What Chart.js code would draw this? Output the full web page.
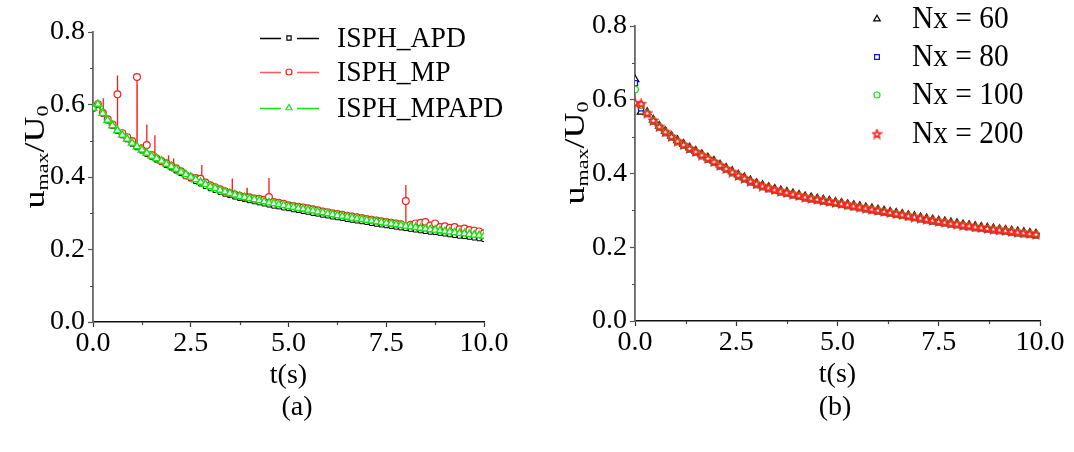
<!DOCTYPE html>
<html>
<head>
<meta charset="utf-8">
<script src="https://cdn.jsdelivr.net/npm/chart.js@4.4.0/dist/chart.umd.min.js"></script>
<style>
  html, body { margin: 0; padding: 0; background: #fff; }
  #wrap { position: relative; width: 1074px; height: 452px; overflow: hidden; }
  .panel { position: absolute; top: 0; width: 537px; height: 452px; }
  .cap { position: absolute; width: 100px; text-align: center; font: 28px "Liberation Serif", serif; line-height: 32px; color: #000; }
</style>
</head>
<body>
<div id="wrap">
  <div class="panel" style="left:0"><canvas id="chartA"></canvas></div>
  <div class="panel" style="left:537px"><canvas id="chartB"></canvas></div>
  <div class="cap" style="left:247px;top:390px">(a)</div>
  <div class="cap" style="left:785px;top:390px">(b)</div>
</div>
<script>
// ===== data: panel (a) =====
const xTicks = [0, 2.5, 5, 7.5, 10];
const yTicks = [0, 0.2, 0.4, 0.6, 0.8];
const xMinor = [1.25, 3.75, 6.25, 8.75];
const yMinor = [0.1, 0.3, 0.5, 0.7];

const tA = [0, 0.125, 0.25, 0.375, 0.5, 0.625, 0.75, 0.875, 1, 1.125,
  1.25, 1.375, 1.5, 1.625, 1.75, 1.875, 2, 2.125, 2.25, 2.375,
  2.5, 2.625, 2.75, 2.875, 3, 3.125, 3.25, 3.375, 3.5, 3.625,
  3.75, 3.875, 4, 4.125, 4.25, 4.375, 4.5, 4.625, 4.75, 4.875,
  5, 5.125, 5.25, 5.375, 5.5, 5.625, 5.75, 5.875, 6, 6.125,
  6.25, 6.375, 6.5, 6.625, 6.75, 6.875, 7, 7.125, 7.25, 7.375,
  7.5, 7.625, 7.75, 7.875, 8, 8.125, 8.25, 8.375, 8.5, 8.625,
  8.75, 8.875, 9, 9.125, 9.25, 9.375, 9.5, 9.625, 9.75, 9.875, 10];

const apd = [0.589, 0.600, 0.574, 0.555, 0.540, 0.526, 0.514, 0.503, 0.491, 0.481,
  0.472, 0.463, 0.455, 0.447, 0.440, 0.432, 0.425, 0.417, 0.410, 0.402,
  0.395, 0.388, 0.381, 0.374, 0.368, 0.363, 0.358, 0.353, 0.349, 0.345,
  0.341, 0.338, 0.335, 0.332, 0.329, 0.326, 0.323, 0.320, 0.318, 0.315,
  0.313, 0.310, 0.308, 0.305, 0.303, 0.300, 0.298, 0.295, 0.293, 0.290,
  0.288, 0.286, 0.283, 0.281, 0.279, 0.277, 0.275, 0.272, 0.270, 0.268,
  0.266, 0.264, 0.262, 0.260, 0.258, 0.256, 0.254, 0.252, 0.250, 0.248,
  0.247, 0.245, 0.243, 0.241, 0.239, 0.237, 0.236, 0.234, 0.232, 0.230, 0.228];

const mp = [0.590, 0.601, 0.577, 0.559, 0.545, 0.628, 0.521, 0.510, 0.499, 0.676,
  0.479, 0.488, 0.461, 0.451, 0.444, 0.438, 0.431, 0.424, 0.416, 0.404,
  0.399, 0.397, 0.395, 0.385, 0.377, 0.372, 0.366, 0.361, 0.356, 0.352,
  0.348, 0.345, 0.344, 0.341, 0.340, 0.337, 0.345, 0.331, 0.329, 0.326,
  0.322, 0.320, 0.318, 0.316, 0.314, 0.311, 0.308, 0.305, 0.303, 0.300,
  0.298, 0.296, 0.293, 0.291, 0.289, 0.287, 0.284, 0.282, 0.280, 0.278,
  0.276, 0.274, 0.272, 0.270, 0.334, 0.268, 0.272, 0.274, 0.276, 0.266,
  0.272, 0.262, 0.264, 0.260, 0.262, 0.256, 0.258, 0.254, 0.252, 0.250, 0.245];

const mpapd = [0.590, 0.601, 0.576, 0.557, 0.542, 0.528, 0.516, 0.505, 0.494, 0.484,
  0.475, 0.466, 0.458, 0.451, 0.444, 0.436, 0.429, 0.422, 0.414, 0.407,
  0.400, 0.393, 0.386, 0.380, 0.374, 0.369, 0.364, 0.359, 0.355, 0.351,
  0.347, 0.344, 0.341, 0.338, 0.335, 0.332, 0.329, 0.327, 0.324, 0.322,
  0.319, 0.317, 0.314, 0.312, 0.309, 0.307, 0.304, 0.302, 0.299, 0.297,
  0.294, 0.292, 0.290, 0.287, 0.285, 0.283, 0.281, 0.279, 0.277, 0.275,
  0.273, 0.271, 0.269, 0.267, 0.265, 0.263, 0.261, 0.259, 0.257, 0.255,
  0.254, 0.252, 0.250, 0.249, 0.247, 0.245, 0.244, 0.242, 0.240, 0.239, 0.237];

// spikes in the ISPH_MP line
const spikeT    = [0.26, 0.625, 1.125, 1.375, 1.58, 1.93, 2.06, 2.78, 3.56, 3.94, 4.5, 8.0];
const spikeTop  = [0.617, 0.680, 0.655, 0.545, 0.515, 0.460, 0.451, 0.433, 0.396, 0.370, 0.397, 0.378];
const spikeBase = [0.576, 0.533, 0.490, 0.468, 0.455, 0.435, 0.428, 0.388, 0.352, 0.343, 0.330, 0.264];

// ===== data: panel (b) =====
const tB = [0, 0.15, 0.3, 0.45, 0.6, 0.75, 0.9, 1.05, 1.2, 1.35,
  1.5, 1.65, 1.8, 1.95, 2.1, 2.25, 2.4, 2.55, 2.7, 2.85,
  3, 3.15, 3.3, 3.45, 3.6, 3.75, 3.9, 4.05, 4.2, 4.35,
  4.5, 4.65, 4.8, 4.95, 5.1, 5.25, 5.4, 5.55, 5.7, 5.85,
  6, 6.15, 6.3, 6.45, 6.6, 6.75, 6.9, 7.05, 7.2, 7.35,
  7.5, 7.65, 7.8, 7.95, 8.1, 8.25, 8.4, 8.55, 8.7, 8.85,
  9, 9.15, 9.3, 9.45, 9.6, 9.75, 9.9];

const nx60 = [0.655, 0.567, 0.566, 0.546, 0.529, 0.515, 0.502, 0.490, 0.480, 0.470,
  0.461, 0.452, 0.443, 0.434, 0.424, 0.415, 0.406, 0.397, 0.389, 0.381,
  0.374, 0.368, 0.363, 0.358, 0.354, 0.350, 0.346, 0.342, 0.338, 0.335,
  0.332, 0.329, 0.326, 0.323, 0.320, 0.317, 0.314, 0.311, 0.308, 0.305,
  0.302, 0.299, 0.296, 0.293, 0.290, 0.287, 0.284, 0.281, 0.278, 0.275,
  0.272, 0.270, 0.267, 0.265, 0.262, 0.260, 0.257, 0.255, 0.253, 0.251,
  0.249, 0.247, 0.245, 0.243, 0.241, 0.239, 0.237];

const nx80 = [0.645, 0.577, 0.561, 0.541, 0.524, 0.510, 0.497, 0.485, 0.475, 0.465,
  0.456, 0.447, 0.438, 0.429, 0.419, 0.410, 0.401, 0.392, 0.384, 0.376,
  0.369, 0.363, 0.358, 0.353, 0.349, 0.345, 0.341, 0.337, 0.333, 0.330,
  0.327, 0.324, 0.321, 0.318, 0.315, 0.312, 0.309, 0.306, 0.303, 0.300,
  0.297, 0.294, 0.291, 0.288, 0.285, 0.282, 0.279, 0.276, 0.273, 0.270,
  0.267, 0.265, 0.262, 0.260, 0.257, 0.255, 0.252, 0.250, 0.248, 0.246,
  0.244, 0.242, 0.240, 0.238, 0.236, 0.234, 0.232];

const nx100 = [0.628, 0.585, 0.563, 0.543, 0.526, 0.512, 0.499, 0.487, 0.477, 0.467,
  0.458, 0.449, 0.440, 0.431, 0.421, 0.412, 0.403, 0.394, 0.386, 0.378,
  0.371, 0.365, 0.360, 0.355, 0.351, 0.347, 0.343, 0.339, 0.335, 0.332,
  0.329, 0.326, 0.323, 0.320, 0.317, 0.314, 0.311, 0.308, 0.305, 0.302,
  0.299, 0.296, 0.293, 0.290, 0.287, 0.284, 0.281, 0.278, 0.275, 0.272,
  0.269, 0.267, 0.264, 0.262, 0.259, 0.257, 0.254, 0.252, 0.250, 0.248,
  0.246, 0.244, 0.242, 0.240, 0.238, 0.236, 0.234];

const nx200 = [0.592, 0.589, 0.564, 0.544, 0.527, 0.513, 0.500, 0.488, 0.478, 0.468,
  0.459, 0.450, 0.441, 0.432, 0.422, 0.413, 0.404, 0.395, 0.387, 0.379,
  0.372, 0.366, 0.361, 0.356, 0.352, 0.348, 0.344, 0.340, 0.336, 0.333,
  0.330, 0.327, 0.324, 0.321, 0.318, 0.315, 0.312, 0.309, 0.306, 0.303,
  0.300, 0.297, 0.294, 0.291, 0.288, 0.285, 0.282, 0.279, 0.276, 0.273,
  0.270, 0.268, 0.265, 0.263, 0.260, 0.258, 0.255, 0.253, 0.251, 0.249,
  0.247, 0.245, 0.243, 0.241, 0.239, 0.237, 0.235];

// ===== helpers =====
const FONT = '"Liberation Serif", "Times New Roman", serif';
const GREEN = '#10e610';
const RED = '#ff1a1a';
const BLUE = '#1010ff';

const pts = (xs, ys) => xs.map((x, i) => ({ x: x, y: ys[i] }));

// red line = markers + narrow spikes, sorted by time
const mpLine = pts(tA, mp).concat(spikeT.flatMap((t, i) => [
  { x: t - 0.004, y: spikeBase[i] },
  { x: t + 0.001, y: spikeTop[i] },
  { x: t + 0.004, y: spikeBase[i] }
])).sort((a, b) => a.x - b.x);

function makeStar(color) {
  const c = document.createElement('canvas');
  c.width = 11; c.height = 11;
  const g = c.getContext('2d');
  g.beginPath();
  for (let i = 0; i < 10; i++) {
    const r = i % 2 ? 1.9 : 4.3;
    const a = -Math.PI / 2 + i * Math.PI / 5;
    const px = 5.5 + r * Math.cos(a), py = 5.8 + r * Math.sin(a);
    if (i) g.lineTo(px, py); else g.moveTo(px, py);
  }
  g.closePath();
  g.fillStyle = '#fff'; g.fill();
  g.strokeStyle = color; g.lineWidth = 1.6; g.stroke();
  return c;
}
const starImg = makeStar(RED);

function axes(yBorder, yWidth) {
  return {
    x: {
      type: 'linear', min: 0, max: 10,
      afterBuildTicks: s => { s.ticks = xTicks.map(v => ({ value: v })); },
      ticks: { callback: v => v.toFixed(1), font: { family: FONT, size: 28 }, color: '#000', padding: 0, maxRotation: 0, autoSkip: false },
      grid: { drawOnChartArea: false, tickLength: 5, tickColor: '#333', tickWidth: 1.2 },
      border: { color: '#111', width: 1.6 },
      title: { display: true, text: 't(s)', font: { family: FONT, size: 28 }, color: '#000', padding: { top: 0, bottom: 0 } },
      afterFit: s => { s.height = 70; }
    },
    y: {
      type: 'linear', min: 0, max: 0.8,
      afterBuildTicks: s => { s.ticks = yTicks.map(v => ({ value: v })); },
      ticks: { callback: v => v.toFixed(1), font: { family: FONT, size: 28 }, color: '#000', padding: 3 },
      grid: { drawOnChartArea: false, tickLength: 5, tickColor: '#555', tickWidth: 1.2 },
      border: { color: yBorder, width: 1.8 },
      afterFit: s => { s.width = yWidth; }
    }
  };
}

function drawMinorTicks(chart) {
  const { ctx, scales: { x, y } } = chart;
  ctx.save();
  ctx.strokeStyle = '#444';
  ctx.lineWidth = 1.2;
  ctx.beginPath();
  xMinor.forEach(v => {
    const px = Math.round(x.getPixelForValue(v)) + 0.5;
    ctx.moveTo(px, y.bottom); ctx.lineTo(px, y.bottom + 3);
  });
  yMinor.forEach(v => {
    const py = Math.round(y.getPixelForValue(v)) + 0.5;
    ctx.moveTo(x.left, py); ctx.lineTo(x.left - 3, py);
  });
  ctx.stroke();
  ctx.restore();
}

// text squeezed slightly in width, like the reference
function drawText(ctx, text, x, y, size, sx) {
  ctx.save();
  ctx.translate(x, y);
  ctx.scale(sx, 1);
  ctx.font = size + 'px ' + FONT;
  ctx.fillStyle = '#000';
  ctx.textBaseline = 'middle';
  ctx.fillText(text, 0, 0);
  ctx.restore();
}

// u_max / U_0, rotated
function drawYTitle(ctx, x, yc) {
  const big = '36px ' + FONT, small = '22px ' + FONT;
  const parts = [['u', big, 0], ['max', small, 5], ['/U', big, 0], ['0', small, 5]];
  let total = 0;
  parts.forEach(p => { ctx.font = p[1]; p.push(ctx.measureText(p[0]).width); total += p[3]; });
  ctx.save();
  ctx.translate(x, yc);
  ctx.rotate(-Math.PI / 2);
  ctx.scale(1, 0.8);
  ctx.fillStyle = '#000';
  ctx.textBaseline = 'alphabetic';
  let cx = -total / 2;
  parts.forEach(p => { ctx.font = p[1]; ctx.fillText(p[0], cx, p[2]); cx += p[3]; });
  ctx.restore();
}

function marker(ctx, style, color, radius, x, y) {
  ctx.save();
  ctx.strokeStyle = color;
  ctx.fillStyle = '#fff';
  ctx.lineWidth = 1.2;
  Chart.helpers.drawPoint(ctx, { pointStyle: style, radius: radius, rotation: 0, borderWidth: 1.2 }, x, y);
  ctx.restore();
}

// ===== panel (a) =====
const legendA = [
  { text: 'ISPH_APD', color: '#000', line: '#000', style: 'rect', r: 3 },
  { text: 'ISPH_MP', color: RED, line: '#ff5a5a', style: 'circle', r: 3 },
  { text: 'ISPH_MPAPD', color: GREEN, line: GREEN, style: 'triangle', r: 3.5 }
];
const legendARows = [38, 72, 108];

const decorA = {
  id: 'decorA',
  afterDraw(chart) {
    const ctx = chart.ctx;
    drawMinorTicks(chart);
    drawYTitle(ctx, 44, 157);
    legendA.forEach((it, i) => {
      const y = legendARows[i];
      ctx.save();
      ctx.strokeStyle = it.line;
      ctx.lineWidth = 1.3;
      ctx.beginPath();
      ctx.moveTo(260, y + 0.5); ctx.lineTo(281, y + 0.5);
      ctx.moveTo(297, y + 0.5); ctx.lineTo(319, y + 0.5);
      ctx.stroke();
      ctx.restore();
      marker(ctx, it.style, it.color, it.r, 289, y);
      drawText(ctx, it.text, 337, y + 1, 30, 0.92);
    });
  }
};

new Chart(document.getElementById('chartA'), {
  type: 'line',
  data: {
    datasets: [
      { label: 'ISPH_MPAPD', data: pts(tA, mpapd), borderColor: GREEN, borderWidth: 1.4,
        pointStyle: 'triangle', pointRadius: 4.3, pointBorderColor: GREEN, pointBackgroundColor: '#fff', pointBorderWidth: 1.4, order: 0 },
      { label: 'ISPH_MP', data: pts(tA, mp), showLine: false,
        pointStyle: 'circle', pointRadius: 3.4, pointBorderColor: RED, pointBackgroundColor: '#fff', pointBorderWidth: 1.2, order: 1 },
      { label: 'ISPH_MP line', data: mpLine, borderColor: RED, borderWidth: 1.3, pointRadius: 0, order: 2 },
      { label: 'ISPH_APD', data: pts(tA, apd), borderColor: '#000', borderWidth: 1.4,
        pointStyle: 'rect', pointRadius: 3, pointBorderColor: '#000', pointBackgroundColor: '#fff', pointBorderWidth: 1, order: 3 }
    ]
  },
  options: {
    responsive: true,
    maintainAspectRatio: false,
    animation: false,
    devicePixelRatio: 1,
    layout: { padding: { left: 0, right: 53, top: 32, bottom: 60 } },
    elements: { line: { tension: 0 } },
    plugins: { legend: { display: false }, tooltip: { enabled: false } },
    scales: axes('#666', 93),
    events: []
  },
  plugins: [decorA]
});

// ===== panel (b) =====
const legendB = [
  { text: 'Nx = 60', color: '#000', style: 'triangle', r: 3.8 },
  { text: 'Nx = 80', color: BLUE, style: 'rect', r: 3.4 },
  { text: 'Nx = 100', color: GREEN, style: 'circle', r: 3 },
  { text: 'Nx = 200', color: RED, style: starImg, r: 4 }
];
const legendBRows = [19, 57, 95, 134];

const decorB = {
  id: 'decorB',
  afterDraw(chart) {
    const ctx = chart.ctx;
    drawMinorTicks(chart);
    drawYTitle(ctx, 47, 153);
    legendB.forEach((it, i) => {
      const y = legendBRows[i];
      marker(ctx, it.style, it.color, it.r, 340, y);
      drawText(ctx, it.text, 375, y + 1, 32, 0.92);
    });
  }
};

new Chart(document.getElementById('chartB'), {
  type: 'line',
  data: {
    datasets: [
      { label: 'Nx = 200', data: pts(tB, nx200), showLine: false, pointStyle: starImg, pointRadius: 4, order: 0 },
      { label: 'Nx = 100', data: pts(tB, nx100), showLine: false,
        pointStyle: 'circle', pointRadius: 3.3, pointBorderColor: GREEN, pointBackgroundColor: '#fff', pointBorderWidth: 1.3, order: 1 },
      { label: 'Nx = 80', data: pts(tB, nx80), showLine: false,
        pointStyle: 'rect', pointRadius: 3.6, pointBorderColor: BLUE, pointBackgroundColor: '#fff', pointBorderWidth: 1.3, order: 2 },
      { label: 'Nx = 60', data: pts(tB, nx60), showLine: false,
        pointStyle: 'triangle', pointRadius: 4.4, pointBorderColor: '#000', pointBackgroundColor: '#fff', pointBorderWidth: 1.3, order: 3 }
    ]
  },
  options: {
    responsive: true,
    maintainAspectRatio: false,
    animation: false,
    devicePixelRatio: 1,
    layout: { padding: { left: 0, right: 34, top: 26, bottom: 61 } },
    plugins: { legend: { display: false }, tooltip: { enabled: false } },
    scales: axes('#666', 98),
    events: []
  },
  plugins: [decorB]
});
</script>
</body>
</html>
